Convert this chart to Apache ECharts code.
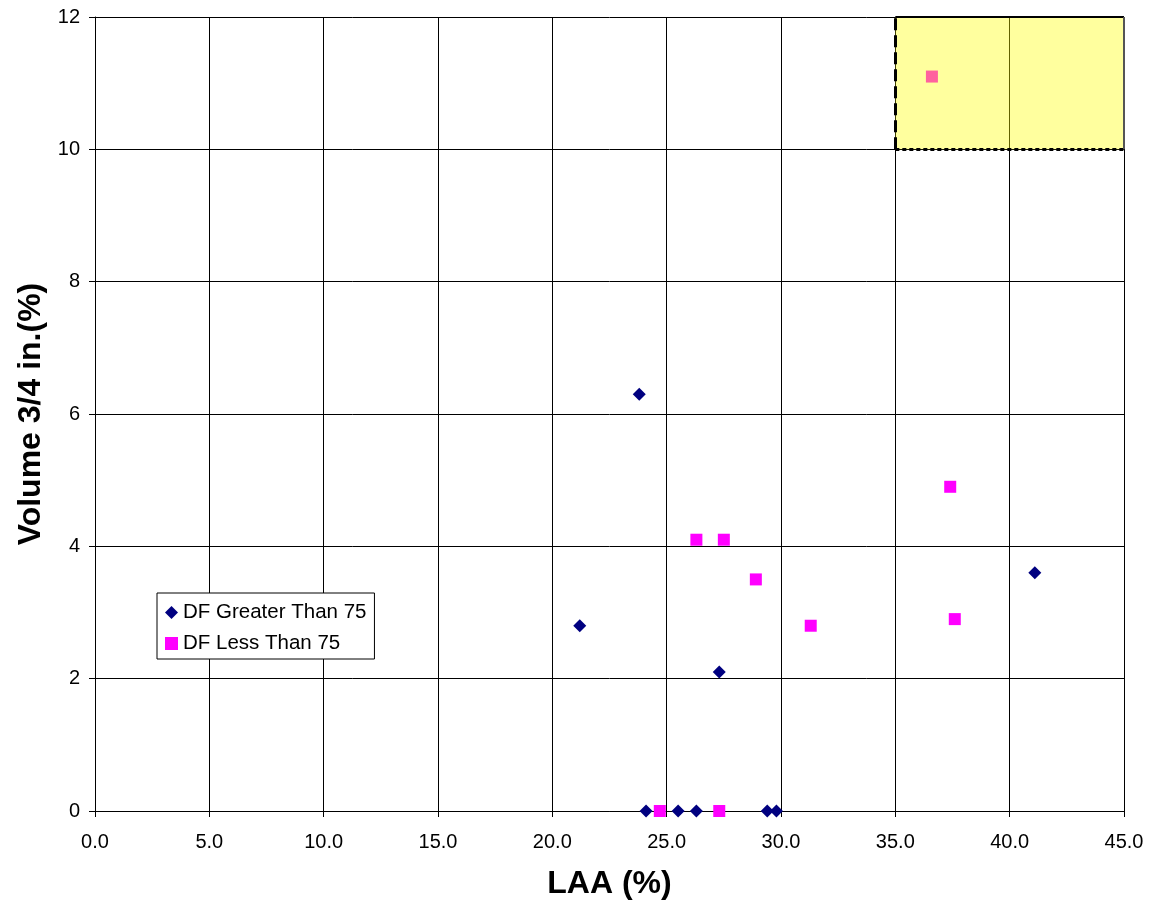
<!DOCTYPE html>
<html><head><meta charset="utf-8">
<script src="https://cdn.jsdelivr.net/npm/echarts@6/dist/echarts.min.js"></script>
<style>html,body{margin:0;padding:0;background:#fff}#c{width:1151px;height:905px}</style>
</head><body><div id="c"></div>
<script>
var seriesNames = ["DF Greater Than 75", "DF Less Than 75"];
var greaterX = [21.2, 23.8, 27.3, 41.1, 24.1, 25.5, 26.3, 29.4, 29.8];
var greaterY = [2.8, 6.3, 2.1, 3.6, 0, 0, 0, 0, 0];
var lessX = [26.3, 27.5, 28.9, 31.3, 37.4, 37.6, 36.6, 24.7, 27.3];
var lessY = [4.1, 4.1, 3.5, 2.8, 4.9, 2.9, 11.1, 0, 0];
var highlightBox = [[35, 10], [45, 12]];

function pairs(xs, ys){ return xs.map(function(x,i){return [x, ys[i]];}); }

var x0 = highlightBox[0][0], y0 = highlightBox[0][1], x1 = highlightBox[1][0], y1 = highlightBox[1][1];
var FONT = 'Liberation Sans, Arial, sans-serif';
var chart = echarts.init(document.getElementById('c'));
chart.setOption({
  animation: false,
  backgroundColor: '#fff',
  textStyle: {fontFamily: FONT},
  grid: {left: 95, right: 27, top: 17, bottom: 94, containLabel: false, outerBoundsMode: 'none'},
  legend: {
    orient: 'vertical', left: 157, top: 593,
    backgroundColor: '#fff', borderColor: '#000', borderWidth: 1,
    padding: [9, 8, 5, 8], itemGap: 10, itemWidth: 13, itemHeight: 13,
    textStyle: {fontSize: 20.5, color: '#000', fontFamily: FONT},
    data: seriesNames
  },
  xAxis: {
    type: 'value', min: 0, max: 45, interval: 5,
    name: 'LAA (%)', nameLocation: 'middle', nameGap: 57,
    nameTextStyle: {fontSize: 32, fontWeight: 'bold', color: '#000', fontFamily: FONT},
    axisLine: {lineStyle: {color: '#000'}},
    axisTick: {show: true, length: 6, lineStyle: {color: '#000'}},
    axisLabel: {fontSize: 20, color: '#000', margin: 21, formatter: function(v){return v.toFixed(1);}},
    splitLine: {show: true, lineStyle: {color: '#000', width: 1}}
  },
  yAxis: {
    type: 'value', min: 0, max: 12, interval: 2,
    name: 'Volume 3/4 in.(%)', nameLocation: 'middle', nameGap: 48,
    nameTextStyle: {fontSize: 32, fontWeight: 'bold', color: '#000', fontFamily: FONT},
    axisLine: {lineStyle: {color: '#000'}},
    axisTick: {show: true, length: 6, lineStyle: {color: '#000'}},
    axisLabel: {fontSize: 20, color: '#000', margin: 15},
    splitLine: {show: true, lineStyle: {color: '#000', width: 1}}
  },
  series: [
    {
      name: seriesNames[0], type: 'scatter', symbol: 'diamond', symbolSize: 13,
      itemStyle: {color: '#000080', opacity: 1}, z: 3,
      data: pairs(greaterX, greaterY)
    },
    {
      name: seriesNames[1], type: 'scatter', symbol: 'rect', symbolSize: 12,
      itemStyle: {color: '#ff00ff', opacity: 1}, z: 3,
      data: pairs(lessX, lessY),
      markArea: {
        silent: true, z: 10,
        itemStyle: {color: 'rgba(255,255,0,0.38)', borderWidth: 0},
        data: [[{coord: highlightBox[0]}, {coord: highlightBox[1]}]]
      },
      markLine: {
        silent: true, z: 11, symbol: 'none', label: {show: false},
        data: [
          [{coord: [x0, y0], lineStyle: {color: '#000', width: 3, type: [12, 5]}}, {coord: [x0, y1]}],
          [{coord: [x0, y0], lineStyle: {color: '#000', width: 3, type: [4, 3]}}, {coord: [x1, y0]}],
          [{coord: [x0, y1], lineStyle: {color: '#000', width: 2, type: 'solid'}}, {coord: [x1, y1]}],
          [{coord: [x1, y0], lineStyle: {color: '#555', width: 2, type: 'solid'}}, {coord: [x1, y1]}]
        ]
      }
    }
  ]
});
</script>
</body></html>
